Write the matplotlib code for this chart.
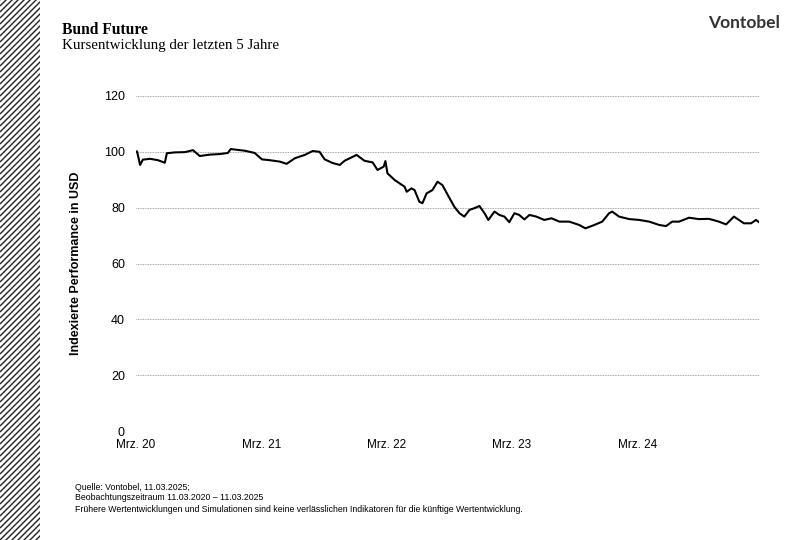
import numpy as np
import pandas as pd
import matplotlib
matplotlib.use("Agg")
import matplotlib.pyplot as plt

dates = ["2020-03-11", "2020-03-14", "2020-03-23", "2020-03-31", "2020-04-21", "2020-05-14",
         "2020-06-03", "2020-06-09", "2020-07-02", "2020-08-01", "2020-08-24", "2020-09-13",
         "2020-10-12", "2020-11-10", "2020-12-04", "2020-12-12", "2021-01-22", "2021-02-20",
         "2021-03-13", "2021-04-05", "2021-05-04", "2021-05-24", "2021-06-17", "2021-07-16",
         "2021-08-08", "2021-08-28", "2021-09-12", "2021-10-05", "2021-10-26", "2021-11-09",
         "2021-12-14", "2022-01-06", "2022-01-30", "2022-02-13", "2022-03-03", "2022-03-08",
         "2022-03-14", "2022-04-04", "2022-05-03", "2022-05-09", "2022-05-23", "2022-06-01",
         "2022-06-15", "2022-06-24", "2022-07-06", "2022-07-23", "2022-08-07", "2022-08-21",
         "2022-09-11", "2022-09-25", "2022-10-10", "2022-10-24", "2022-11-08", "2022-11-22",
         "2022-12-07", "2022-12-22", "2023-01-02", "2023-01-20", "2023-02-03", "2023-02-18",
         "2023-03-04", "2023-03-19", "2023-04-02", "2023-04-17", "2023-05-02", "2023-05-22",
         "2023-06-14", "2023-07-05", "2023-07-28", "2023-08-26", "2023-09-24", "2023-10-12",
         "2023-11-07", "2023-11-30", "2023-12-20", "2023-12-29", "2024-01-18", "2024-02-17",
         "2024-03-17", "2024-04-15", "2024-05-14", "2024-06-03", "2024-06-21", "2024-07-11",
         "2024-08-09", "2024-09-07", "2024-10-06", "2024-11-04", "2024-11-25", "2024-12-18",
         "2025-01-16", "2025-02-06", "2025-02-20", "2025-03-01"]
values = [100.0, 100.2, 95.3, 97.2, 97.5, 97.0,
          96.1, 99.5, 99.8, 99.9, 100.6, 98.5,
          99.0, 99.2, 99.6, 101.0, 100.4, 99.6,
          97.3, 97.0, 96.5, 95.7, 97.7, 98.9,
          100.3, 100.0, 97.3, 96.0, 95.3, 96.8,
          98.9, 96.8, 96.2, 93.5, 94.7, 96.7,
          92.3, 89.9, 87.5, 85.7, 86.9, 86.3,
          82.1, 81.6, 85.1, 86.3, 89.3, 88.1,
          83.4, 80.3, 78.0, 76.8, 79.2, 79.8,
          80.6, 78.0, 75.6, 78.6, 77.4, 76.8,
          74.8, 78.0, 77.4, 75.8, 77.4, 76.8,
          75.6, 76.2, 75.0, 75.0, 73.8, 72.6,
          73.8, 75.0, 78.0, 78.6, 76.8, 75.9,
          75.6, 75.0, 73.8, 73.4, 75.0, 75.0,
          76.4, 75.9, 76.0, 75.0, 74.0, 76.8,
          74.4, 74.4, 75.6, 74.8]
tick_dates = ["2020-03-11", "2021-03-11", "2022-03-11", "2023-03-11", "2024-03-11"]
tick_labels = ["Mrz. 20", "Mrz. 21", "Mrz. 22", "Mrz. 23", "Mrz. 24"]
y_ticks = [0, 20, 40, 60, 80, 100, 120]

plt.rcParams['font.family'] = ['Liberation Sans', 'DejaVu Sans']

W, H = 798, 540
fig = plt.figure(figsize=(W / 100, H / 100), dpi=100)

# hatched stripe on the left edge
hx = fig.add_axes([0, 0, 40 / W, 1])
hx.set_xlim(0, 40)
hx.set_ylim(0, H)
hx.axis('off')
for c in np.arange(-60, H + 60, 6):
    hx.plot([0, 60], [c, c + 60], color='#222222', lw=1.0, solid_capstyle='butt')

ax = fig.add_axes([136 / W, 1 - 431 / H, (759 - 136) / W, (431 - 96) / H])
ax.plot(pd.to_datetime(dates), values, color='black', lw=1.5)
ax.set_xlim(pd.Timestamp("2020-03-11"), pd.Timestamp("2025-03-01"))
ax.set_ylim(0, 120)
ax.set_yticks(y_ticks)
ax.set_xticks(pd.to_datetime(tick_dates))
ax.set_xticklabels(tick_labels)
for s in ax.spines.values():
    s.set_visible(False)
ax.tick_params(length=0, labelsize=8.5, colors='black')
ax.tick_params(axis='y', pad=8, labelsize=9)
ax.tick_params(axis='x', pad=6)
ax.grid(axis='y', linestyle=(0, (1, 1)), color='#888888', lw=0.6)
ax.set_ylabel("Indexierte Performance in USD", fontsize=9, fontweight='bold', labelpad=16)

fig.text(62 / W, 1 - 30 / H, "Bund Future", fontsize=11.2, fontweight='bold',
         family='Liberation Serif', va='center')
fig.text(62 / W, 1 - 46 / H, "Kursentwicklung der letzten 5 Jahre", fontsize=10.8,
         family='Liberation Serif', va='center')
fig.text(780 / W, 1 - 23 / H, "Vontobel", fontsize=12.5, color='#333333',
         family='Lato', fontweight='bold', ha='right', va='center')

foot = ["Quelle: Vontobel, 11.03.2025;",
        "Beobachtungszeitraum 11.03.2020 \u2013 11.03.2025",
        "Frühere Wertentwicklungen und Simulationen sind keine verlässlichen Indikatoren für die künftige Wertentwicklung."]
for i, t in enumerate(foot):
    fig.text(75 / W, 1 - (487 + i * 11) / H, t, fontsize=6.3, va='center')

fig.savefig("out.png", dpi=100)
